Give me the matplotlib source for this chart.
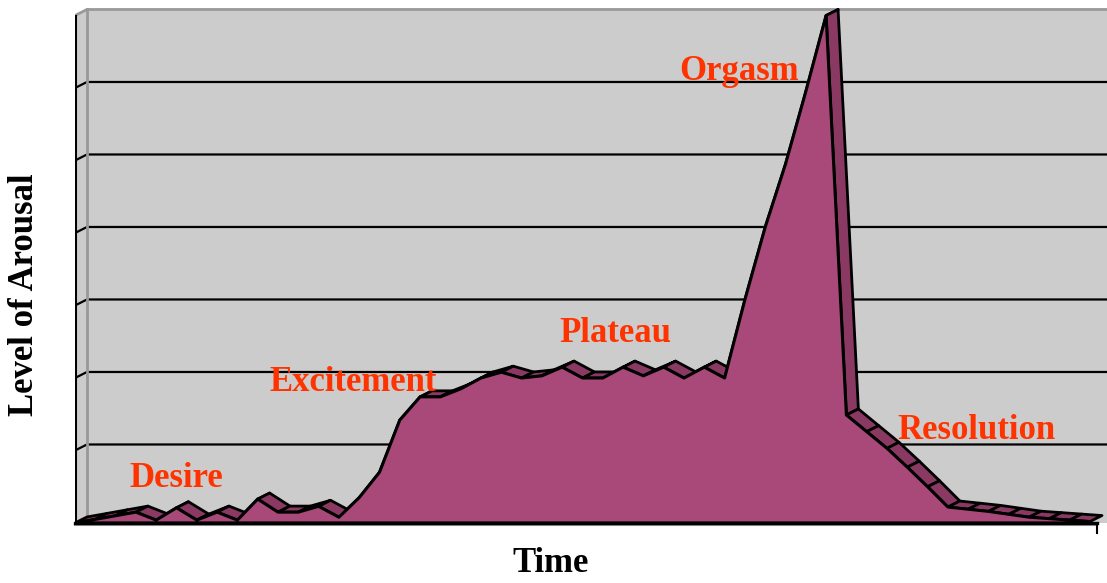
import numpy as np
import matplotlib
matplotlib.use('Agg')
import matplotlib.pyplot as plt
from matplotlib.patches import Polygon

# arousal level per time step (front face of the 3D area)
arousal = [0.00, 0.05, 0.10, 0.15, 0.04, 0.21, 0.04, 0.15, 0.04, 0.33,
           0.15, 0.15, 0.23, 0.08, 0.35, 0.70, 1.42, 1.74, 1.74, 1.85,
           2.00, 2.08, 2.00, 2.03, 2.15, 2.00, 2.00, 2.15, 2.03, 2.15,
           2.00, 2.15, 2.00, 3.08, 4.08, 4.95, 5.95, 7.00, 1.49, 1.26,
           1.03, 0.77, 0.50, 0.22, 0.19, 0.16, 0.12, 0.08, 0.06, 0.04, 0.02]
stage_names = ["Desire", "Excitement", "Plateau", "Orgasm", "Resolution"]
x_title = "Time"
y_title = "Level of Arousal"
y_max = 7

# where the stage names sit (time step, baseline level)
stage_pos = [(5.0, 0.50), (13.7, 1.82), (26.6, 2.50), (32.7, 6.11), (44.4, 1.16)]

# depth of the pseudo 3D extrusion, in data units
DX, DY = 0.59, 0.083
wall = '#cccccc'
edge_grey = '#999999'
front_col = '#a8497a'
top_col = '#8a3a62'
label_col = '#ff3300'

fig = plt.figure(figsize=(11.07, 5.83), dpi=100)
ax = fig.add_axes([75 / 1107, 53 / 583, 1032 / 1107, 525 / 583])
x_end = 1032 / 20.3
ax.set_xlim(0, x_end)
ax.set_ylim(-7 / 72.5, 518 / 72.5)
ax.axis('off')

x = np.arange(len(arousal))
y = np.array(arousal)

# walls
ax.add_patch(Polygon([(DX, DY), (x_end, DY), (x_end, y_max + DY), (DX, y_max + DY)],
                     closed=True, facecolor=wall, edgecolor='none', zorder=0))
ax.add_patch(Polygon([(0, 0), (DX, DY), (DX, y_max + DY), (0, y_max)],
                     closed=True, facecolor=wall, edgecolor='none', zorder=0))
ax.add_patch(Polygon([(0, 0), (x_end, 0), (x_end, DY), (DX, DY)],
                     closed=True, facecolor=wall, edgecolor='none', zorder=0))

# gridlines on side wall + back wall
for k in range(1, y_max):
    ax.plot([0, DX, x_end], [k, k + DY, k + DY], color='black', lw=1.6, zorder=1,
            solid_capstyle='butt')
ax.plot([0, DX, x_end], [y_max, y_max + DY, y_max + DY], color=edge_grey, lw=2, zorder=1)
ax.plot([DX, DX], [DY, y_max + DY], color=edge_grey, lw=2, zorder=1)
ax.plot([0, 0], [0, y_max], color='black', lw=2.2, zorder=6)

# top faces of the extrusion: hidden ones first, then visible ones
faces = []
for i in range(len(x) - 1):
    quad = [(x[i], y[i]), (x[i + 1], y[i + 1]),
            (x[i + 1] + DX, y[i + 1] + DY), (x[i] + DX, y[i] + DY)]
    cross = (x[i + 1] - x[i]) * DY - (y[i + 1] - y[i]) * DX
    faces.append((cross > 0, quad))
for visible, quad in sorted(faces, key=lambda f: f[0]):
    ax.add_patch(Polygon(quad, closed=True, facecolor=top_col, edgecolor='black',
                         lw=2.0, joinstyle='round', zorder=4 if visible else 3))

# front face
front = [(0, 0)] + list(zip(x, y)) + [(x[-1], 0)]
ax.add_patch(Polygon(front, closed=True, facecolor=front_col, edgecolor='black',
                     lw=2.2, joinstyle='round', zorder=5))

# floor line and end tick
x_axis_end = (1097 - 75) / 20.3
ax.plot([0, x_axis_end], [-0.025, -0.025], color=edge_grey, lw=1.5, zorder=6, clip_on=False)
ax.plot([0, x_axis_end], [0, 0], color='black', lw=2.4, zorder=7, clip_on=False)
ax.plot([x_axis_end, x_axis_end], [0, -0.14], color='black', lw=1.5, zorder=7, clip_on=False)

for name, (px, py) in zip(stage_names, stage_pos):
    ax.text(px, py, name, ha='center', va='baseline', color=label_col,
            family='Liberation Serif', weight='bold', fontsize=25, zorder=8)

fig.text(551 / 1107, (583 - 572) / 583, x_title, ha='center', va='baseline',
         family='Liberation Serif', weight='bold', fontsize=25)
fig.text(25 / 1107, (583 - 295) / 583, y_title, ha='center', va='center', rotation=90,
         family='Liberation Serif', weight='bold', fontsize=25)

fig.savefig('out.png', dpi=100)
